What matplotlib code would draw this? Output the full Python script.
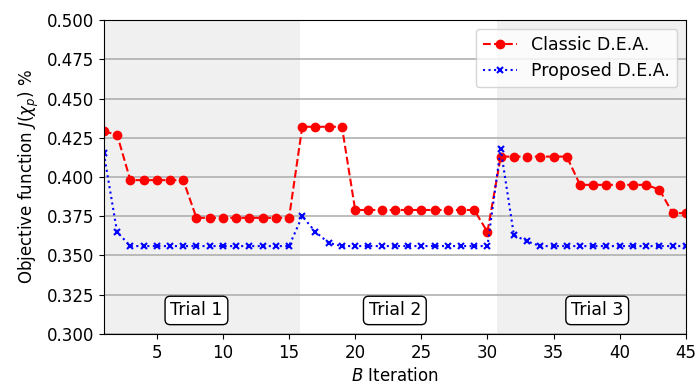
import numpy as np
import matplotlib
matplotlib.use("Agg")
import matplotlib.pyplot as plt

# iteration index and objective values for the two optimisers
iterations = list(range(1, 46))
classic_dea = [
    0.429, 0.427, 0.398, 0.398, 0.398, 0.398, 0.398, 0.374, 0.374, 0.374,
    0.374, 0.374, 0.374, 0.374, 0.374,
    0.432, 0.432, 0.432, 0.432, 0.379, 0.379, 0.379, 0.379, 0.379, 0.379,
    0.379, 0.379, 0.379, 0.379, 0.365,
    0.413, 0.413, 0.413, 0.413, 0.413, 0.413, 0.395, 0.395, 0.395, 0.395,
    0.395, 0.395, 0.392, 0.377, 0.377,
]
proposed_dea = [
    0.415, 0.365, 0.356, 0.356, 0.356, 0.356, 0.356, 0.356, 0.356, 0.356,
    0.356, 0.356, 0.356, 0.356, 0.356,
    0.375, 0.365, 0.358, 0.356, 0.356, 0.356, 0.356, 0.356, 0.356, 0.356,
    0.356, 0.356, 0.356, 0.356, 0.356,
    0.418, 0.363, 0.359, 0.356, 0.356, 0.356, 0.356, 0.356, 0.356, 0.356,
    0.356, 0.356, 0.356, 0.356, 0.356,
]
trial_labels = ["Trial 1", "Trial 2", "Trial 3"]
trial_label_x = [8, 23, 38.3]
shaded_spans = [(1, 15.8), (30.7, 45)]

plt.rcParams["font.size"] = 12

fig = plt.figure(figsize=(6.97, 3.85), dpi=100)
ax = fig.add_axes([0.149, 0.1325, 0.835, 0.8155])

for start, stop in shaded_spans:
    ax.axvspan(start, stop, color="#f0f0f0", zorder=0, lw=0)

ax.plot(iterations, classic_dea, "r--", marker="o", markersize=6,
        label="Classic D.E.A.")
ax.plot(iterations, proposed_dea, "b:", marker="x", markersize=5,
        markeredgewidth=1.5, label="Proposed D.E.A.")

for label, xpos in zip(trial_labels, trial_label_x):
    ax.text(xpos, 0.315, label, ha="center", va="center", fontsize=12.5,
            bbox=dict(boxstyle="round,pad=0.3", fc="white", ec="black"))

ax.set_xlim(1, 45)
ax.set_ylim(0.3, 0.5)
ax.set_xticks(np.arange(5, 46, 5))
ax.set_yticks(np.arange(0.3, 0.501, 0.025))
ax.yaxis.grid(True, color="#b0b0b0", linewidth=1.2)
ax.set_axisbelow(True)
ax.set_xlabel("$B$ Iteration")
ax.set_ylabel(r"Objective function $J(\chi_p)$ %")
ax.legend(loc="upper right", numpoints=1, fontsize=12.5)

fig.savefig("out.png", dpi=100)
